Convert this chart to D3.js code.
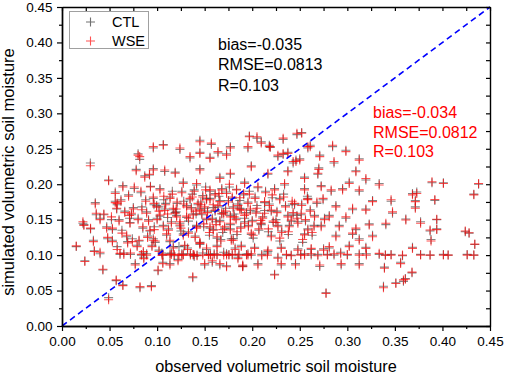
<!DOCTYPE html>
<html>
<head>
<meta charset="utf-8">
<script src="https://cdn.jsdelivr.net/npm/d3@7"></script>
<style>
  body { margin: 0; background: #fff; }
  svg { display: block; }
</style>
</head>
<body>
<div id="chart"></div>
<script>
// observed soil moisture (x) shared by both runs
const observed = [
  .015,.022,.023,.024,.033,.034,.036,.035,.040,.043,
  .044,.047,.049,.053,.057,.056,.0575,.053,.064,.061,
  .065,.069,.0715,.073,.077,.081,.082,.086,.0855,.089,
  .0925,.094,.0946,.0967,.098,.101,.102,.106,.109,.112,
  .1135,.115,.119,.124,.126,.129,.133,.1375,.138,.1415,
  .145,.147,.152,.154,.159,.163,.166,.168,.173,.177,
  .180,.187,.190,.194,.196,
  .0298,.049,.0817,.078,.087,.092,.056,.058,.064,.070,
  .075,.083,.088,.080,.068,.060,.090,.072,.079,.085,
  .091,.066,.048,.040,.030,.076,.093,.062,.0835,
  .1065,.124,.145,.157,.177,.145,.164,.173,.1346,.1556,
  .096,.108,.119,.145,.166,.177,.1275,.1415,.103,.1556,
  .173,.1835,.096,.1136,.1346,.1556,.166,.0995,.117,.131,
  .145,.161,.180,.103,.1205,.138,.152,.166,.177,.1065,
  .124,.1415,.1556,.177,.096,.1135,.1275,.145,.163,.178,
  .1136,.1275,.139,.160,.1755,.106,.150,.173,
  .1955,.2095,.218,.227,.2375,.246,.2585,.199,.2165,.2375,
  .255,.269,.192,.206,.2235,.234,.255,.2725,.1955,.213,
  .229,.2445,.2585,.2745,.1885,.204,.220,.2375,.2515,.2655,
  .192,.2095,.227,.241,.2585,.2725,.199,.220,.255,.1885,
  .2025,.2165,.2305,.248,.262,.275,.1955,.210,.227,.241,
  .255,.269,.190,.206,.2305,.2455,.271,.2235,.2776,
  .2845,.2985,.3125,.286,.309,.3195,.3335,.302,.283,.295,
  .3125,.3265,.346,.3685,.288,.3055,.3195,.3475,.3615,.281,
  .2985,.2915,.309,.323,.3405,.288,.3055,.3265,.3125,.281,
  .302,.3195,.3685,.286,.293,.3125,.3335,.346,.358,.2935,
  .3125,.356,.339,.338,.351,.359,.368,.361,
  .389,.401,.438,.433,.373,.3715,.392,.3715,.394,.377,
  .387,.394,.424,.428,.388,.434,.377,.387,.401,.406,
  .426,.433,
  .247,.252,.2325,.205,.197,.219,.261,.271,.2325,.243,
  .250,.080,.096,.270,
  .100,.108,.115,.121,.126,.131,.136,.139,.143,.148,
  .150,.153,.158,.161,.164,.168,.170,.171,.175,.179,
  .183,.185,.188,.191,.194,.198,.200,.203,.207,.211,
  .214,.218,.222,.226,.231,.235,.239,.243,.248,.252,
  .256,.261,.265,.268,.276,.117,.132,.152,.167,.182,
  .140,.122,.158,.185,.110,
  .105,.118,.123,.135,.142,.148,.156,.163,.170,.179,
  .186,.199,.216,.236,.251,.262,.279,.300,.320,.340,
  .102,.107,.111,.116,.120,.125,.128,.133,.137,.141,
  .146,.149,.151,.155,.159,.162,.165,.169,.172,.176,
  .181,.184,.187,.192,.197,.201,.205,.209,.213,.217,
  .221,.225,.229,.233,.238,.242,.247,.253,.258,.263,
  .058,.063,.071,.084,.097,.052,.074,.089
];

// simulated soil moisture, CTL run
const ctlSim = [
  .112,.145,.143,.092,.121,.106,.157,.174,.102,.079,
  .157,.140,.040,.136,.064,.176,.165,.121,.058,.101,
  .103,.119,.146,.157,.088,.120,.054,.097,.103,.161,
  .134,.057,.114,.171,.118,.078,.107,.100,.173,.137,
  .088,.103,.160,.145,.102,.113,.133,.068,.100,.142,
  .115,.157,.180,.101,.136,.114,.086,.158,.102,.143,
  .123,.166,.084,.101,.142,
  .230,.206,.235,.221,.212,.213,.189,.171,.198,.185,
  .167,.188,.178,.152,.126,.150,.127,.101,.114,.138,
  .150,.162,.123,.152,.137,.194,.197,.178,.100,
  .256,.249,.262,.256,.253,.245,.244,.243,.237,.238,
  .222,.218,.217,.222,.210,.214,.203,.199,.194,.190,
  .189,.193,.180,.182,.178,.180,.177,.170,.164,.170,
  .165,.162,.168,.155,.156,.158,.150,.149,.156,.142,
  .141,.140,.138,.137,.123,.119,.130,.118,.124,.123,
  .102,.101,.098,.102,.101,.090,.086,.085,
  .251,.260,.255,.239,.245,.234,.251,.226,.214,.219,
  .210,.214,.203,.195,.194,.199,.194,.198,.175,.174,
  .180,.171,.180,.178,.165,.161,.162,.156,.157,.156,
  .147,.143,.142,.148,.137,.142,.129,.128,.130,.114,
  .111,.105,.111,.109,.108,.109,.102,.101,.097,.100,
  .102,.101,.085,.088,.086,.088,.084,.073,.047,
  .253,.248,.236,.230,.219,.206,.201,.203,.190,.194,
  .190,.177,.176,.187,.170,.164,.165,.159,.151,.156,
  .152,.142,.136,.144,.143,.128,.129,.128,.123,.110,
  .114,.111,.111,.100,.104,.102,.101,.101,.099,.086,
  .088,.090,.083,.056,.061,.063,.075,.067,
  .202,.202,.200,.186,.189,.177,.177,.168,.150,.147,
  .134,.137,.133,.131,.122,.115,.101,.100,.101,.100,
  .101,.100,
  .270,.273,.263,.265,.268,.252,.255,.241,.242,.230,
  .236,.243,.251,.223,
  .152,.165,.147,.173,.190,.153,.167,.192,.171,.184,
  .166,.162,.152,.187,.168,.194,.160,.138,.177,.180,
  .152,.172,.140,.185,.160,.163,.149,.182,.135,.154,
  .190,.172,.146,.162,.134,.170,.142,.158,.147,.172,
  .148,.164,.142,.173,.152,.112,.110,.108,.122,.110,
  .127,.094,.090,.097,.128,
  .103,.099,.112,.102,.100,.103,.101,.100,.104,.100,
  .101,.100,.103,.100,.101,.100,.101,.100,.102,.100,
  .168,.178,.153,.190,.161,.134,.176,.148,.186,.158,
  .175,.140,.196,.128,.167,.147,.183,.132,.166,.196,
  .158,.129,.177,.152,.190,.124,.170,.145,.163,.133,
  .181,.150,.120,.186,.129,.172,.156,.118,.183,.128,
  .112,.135,.152,.168,.140,.150,.123,.102
];

// simulated soil moisture, WSE run
const wseSim = [
  .113,.147,.142,.091,.119,.105,.159,.172,.104,.080,
  .158,.138,.037,.138,.065,.174,.166,.119,.057,.1025,
  .101,.117,.145,.159,.086,.121,.0555,.095,.105,.159,
  .135,.0555,.112,.173,.120,.079,.105,.101,.171,.135,
  .086,.101,.159,.147,.100,.114,.131,.0695,.101,.140,
  .117,.159,.178,.100,.135,.112,.088,.159,.100,.145,
  .121,.164,.086,.100,.140,
  .226,.205,.239,.219,.210,.214,.187,.173,.196,.183,
  .165,.190,.176,.150,.128,.148,.125,.103,.112,.140,
  .148,.160,.125,.150,.138,.196,.196,.176,.101,
  .255,.251,.260,.258,.251,.2435,.246,.241,.239,.2365,
  .220,.220,.2155,.220,.208,.2155,.201,.201,.192,.192,
  .187,.192,.182,.180,.180,.178,.1755,.168,.166,.168,
  .1635,.1635,.166,.1565,.154,.1565,.152,.147,.154,.140,
  .1425,.138,.140,.1355,.121,.121,.128,.1165,.126,.121,
  .100,.100,.100,.100,.100,.088,.088,.0835,
  .253,.258,.253,.241,.2435,.232,.253,.2245,.2155,.2175,
  .208,.2155,.201,.1965,.192,.201,.192,.1965,.173,.1755,
  .178,.173,.178,.180,.1635,.159,.1635,.154,.159,.154,
  .145,.145,.140,.1495,.1355,.140,.131,.126,.1285,.112,
  .1095,.107,.1095,.107,.1095,.107,.100,.099,.0955,.099,
  .100,.099,.0835,.086,.088,.086,.086,.072,.046,
  .255,.246,.234,.232,.2175,.208,.199,.201,.192,.192,
  .192,.1755,.178,.185,.168,.166,.1635,.161,.1495,.154,
  .154,.140,.138,.1425,.145,.126,.131,.126,.121,.112,
  .112,.1095,.1095,.102,.102,.100,.1025,.100,.100,.088,
  .086,.088,.0815,.054,.060,.065,.076,.066,
  .2035,.201,.201,.185,.187,.1755,.1785,.166,.1505,.145,
  .1355,.136,.134,.1315,.120,.1155,.100,.100,.100,.100,
  .100,.100,
  .272,.272,.265,.267,.267,.253,.253,.239,.2435,.232,
  .234,.241,.253,.221,
  .150,.163,.145,.175,.188,.155,.165,.190,.173,.182,
  .168,.160,.150,.185,.170,.192,.158,.140,.175,.182,
  .150,.170,.138,.187,.158,.165,.147,.180,.137,.152,
  .188,.170,.148,.160,.132,.168,.140,.160,.145,.170,
  .150,.162,.140,.175,.150,.110,.108,.110,.120,.108,
  .125,.092,.092,.095,.130,
  .100,.101,.100,.100,.099,.100,.100,.101,.100,.101,
  .100,.102,.100,.101,.100,.102,.100,.101,.100,.100,
  .162,.183,.158,.186,.165,.138,.172,.152,.182,.162,
  .171,.144,.192,.132,.171,.143,.187,.136,.162,.200,
  .154,.133,.181,.156,.186,.128,.166,.149,.159,.137,
  .185,.146,.124,.182,.133,.176,.152,.122,.179,.132,
  .108,.131,.156,.164,.136,.154,.119,.100
];

const seriesNames = ["CTL", "WSE"];
const statsCTL = ["bias=-0.035", "RMSE=0.0813", "R=0.103"];
const statsWSE = ["bias=-0.034", "RMSE=0.0812", "R=0.103"];
const majorTicks = [0, 0.05, 0.1, 0.15, 0.2, 0.25, 0.3, 0.35, 0.4, 0.45];
const minorTicks = [0.025, 0.075, 0.125, 0.175, 0.225, 0.275, 0.325, 0.375, 0.425];
const allTicks = majorTicks.concat(minorTicks);

const width = 505, height = 375;
const font = "'Liberation Sans', Arial, sans-serif";

const x = d3.scaleLinear().domain([0, 0.45]).range([62, 490]);
const y = d3.scaleLinear().domain([0, 0.45]).range([326, 7]);

const svg = d3.select("#chart").append("svg")
    .attr("width", width)
    .attr("height", height)
    .attr("font-family", font);

function plus(g, data, color, opacity) {
  const n = Math.min(observed.length, data.length);
  const pts = d3.range(n).map(i => [observed[i], data[i]]);
  g.selectAll("path")
    .data(pts)
    .join("path")
      .attr("d", d => {
        const cx = x(d[0]), cy = y(d[1]);
        return `M${cx - 4.5},${cy}H${cx + 4.5}M${cx},${cy - 4.5}V${cy + 4.5}`;
      })
      .attr("stroke", color)
      .attr("stroke-opacity", opacity)
      .attr("stroke-width", 1.1)
      .attr("fill", "none");
}

plus(svg.append("g"), ctlSim, "#333333", 0.6);
plus(svg.append("g"), wseSim, "#ff0000", 0.68);

// 1:1 line
svg.append("line")
    .attr("x1", x(0)).attr("y1", y(0))
    .attr("x2", x(0.45)).attr("y2", y(0.45))
    .attr("stroke", "#0000ff")
    .attr("stroke-width", 1.6)
    .attr("stroke-dasharray", "6,4");

// axes
function styleAxis(g) {
  g.select(".domain").attr("stroke", "#000").attr("stroke-width", 1.4);
  g.selectAll(".tick line").attr("stroke", "#000").attr("stroke-width", 1.2);
  g.selectAll("text").attr("font-size", 13.5).attr("font-family", font).attr("fill", "#000");
}

svg.append("g")
    .attr("transform", `translate(0,${y(0)})`)
    .call(d3.axisBottom(x).tickValues(minorTicks).tickSize(3).tickSizeOuter(0).tickFormat(""))
    .call(styleAxis);
svg.append("g")
    .attr("transform", `translate(0,${y(0)})`)
    .call(d3.axisBottom(x).tickValues(majorTicks).tickSize(5).tickPadding(5).tickSizeOuter(0).tickFormat(d3.format(".2f")))
    .call(styleAxis);

svg.append("g")
    .attr("transform", `translate(${x(0)},0)`)
    .call(d3.axisLeft(y).tickValues(minorTicks).tickSize(3).tickSizeOuter(0).tickFormat(""))
    .call(styleAxis);
svg.append("g")
    .attr("transform", `translate(${x(0)},0)`)
    .call(d3.axisLeft(y).tickValues(majorTicks).tickSize(5).tickPadding(4.5).tickSizeOuter(0).tickFormat(d3.format(".2f")))
    .call(styleAxis);

svg.append("g")
    .attr("transform", `translate(0,${y(0.45)})`)
    .call(d3.axisTop(x).tickValues(allTicks).tickSize(-4).tickSizeOuter(0).tickFormat(""))
    .call(styleAxis);
svg.append("g")
    .attr("transform", `translate(${x(0.45)},0)`)
    .call(d3.axisRight(y).tickValues(allTicks).tickSize(-4).tickSizeOuter(0).tickFormat(""))
    .call(styleAxis);

// axis titles
svg.append("text")
    .attr("x", 276).attr("y", 372)
    .attr("text-anchor", "middle")
    .attr("font-size", 16.3)
    .text("observed volumetric soil moisture");

svg.append("text")
    .attr("transform", "translate(14,172) rotate(-90)")
    .attr("text-anchor", "middle")
    .attr("font-size", 16.5)
    .text("simulated volumetric soil moisture");

// legend
const legend = svg.append("g");
legend.append("rect")
    .attr("x", 69.5).attr("y", 11.5)
    .attr("width", 79).attr("height", 37)
    .attr("fill", "#fff")
    .attr("stroke", "#a0a0a0");
const legColors = ["#333333", "#ff0000"];
seriesNames.forEach((name, i) => {
  const ly = 22 + i * 19;
  legend.append("path")
      .attr("d", `M86,${ly}H95M90.5,${ly - 4.5}V${ly + 4.5}`)
      .attr("stroke", legColors[i])
      .attr("stroke-opacity", i ? 0.68 : 0.7)
      .attr("stroke-width", 1.1);
  legend.append("text")
      .attr("x", 112).attr("y", ly + 5.3)
      .attr("font-size", 14.5)
      .text(name);
});

// statistics
svg.append("g").selectAll("text")
  .data(statsCTL)
  .join("text")
    .attr("x", 218)
    .attr("y", (d, i) => 50 + i * 20.3)
    .attr("font-size", 16)
    .attr("fill", "#000")
    .text(d => d);

svg.append("g").selectAll("text")
  .data(statsWSE)
  .join("text")
    .attr("x", 373)
    .attr("y", (d, i) => 118 + i * 19.7)
    .attr("font-size", 16)
    .attr("fill", "#ff0000")
    .text(d => d);
</script>
</body>
</html>
